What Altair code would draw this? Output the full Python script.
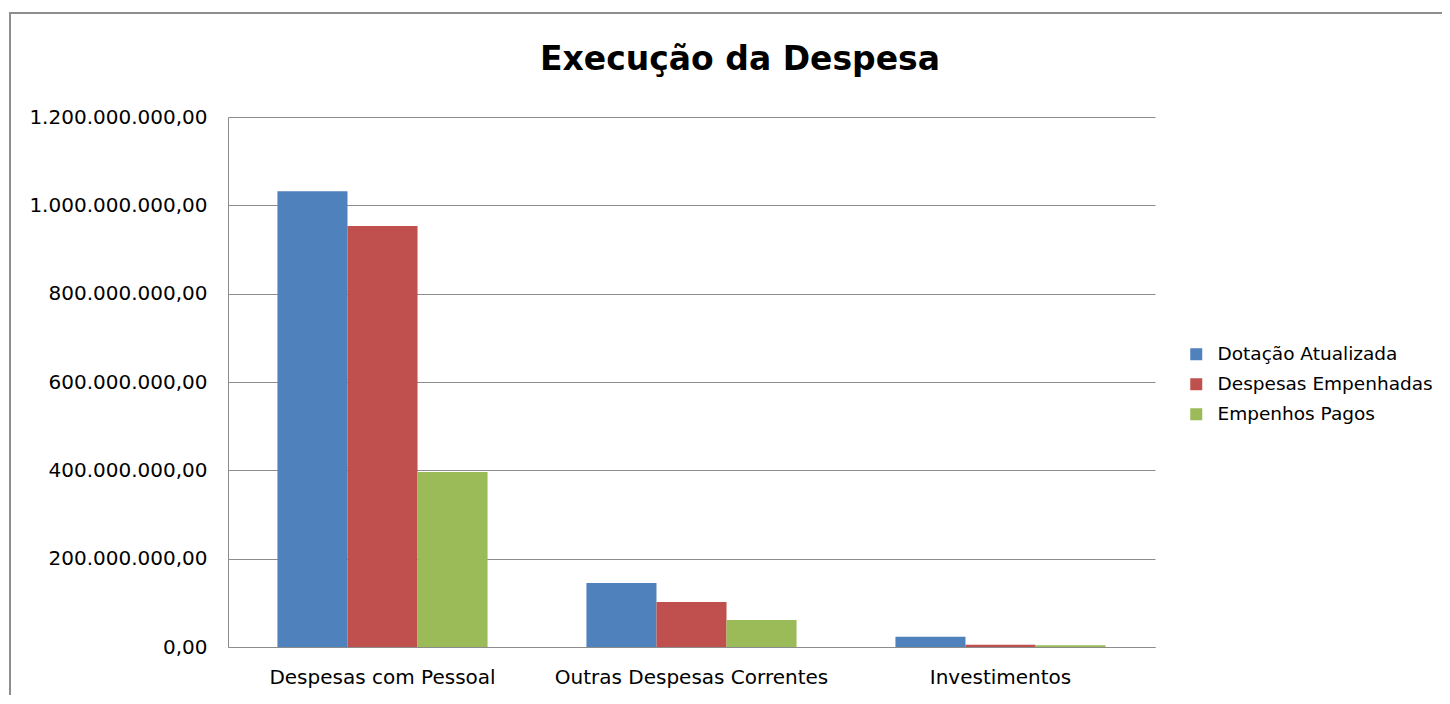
import altair as alt
import pandas as pd

categories = ["Despesas com Pessoal", "Outras Despesas Correntes", "Investimentos"]
series = ["Dotação Atualizada", "Despesas Empenhadas", "Empenhos Pagos"]
dotacao_atualizada = [1032e6, 145e6, 23e6]
despesas_empenhadas = [953e6, 102e6, 5e6]
empenhos_pagos = [396e6, 61e6, 4e6]
y_ticks = [0, 2e8, 4e8, 6e8, 8e8, 1e9, 1.2e9]
colors = ["#4F81BD", "#C0504D", "#9BBB59"]
chart_title = ["Execução da Despesa"]

rows = []
for s, vals in zip(series, [dotacao_atualizada, despesas_empenhadas, empenhos_pagos]):
    for c, v in zip(categories, vals):
        rows.append({"categoria": c, "serie": s, "valor": v})
df = pd.DataFrame(rows)

FONT = "DejaVu Sans"
GRID = "#8c8c8c"

frame = alt.Chart(pd.DataFrame({"f": [0]})).mark_rect(
    fillOpacity=0, stroke="#8e8e8e", strokeWidth=2
).encode(
    x=alt.value(-218), x2=alt.value(1400), y=alt.value(-104), y2=alt.value(700)
)

title = alt.Chart(pd.DataFrame({"t": chart_title})).mark_text(
    font=FONT, fontSize=33, fontWeight="bold", color="#000", align="center", baseline="middle"
).encode(
    text="t:N", x=alt.value(512), y=alt.value(-57)
)

bars = alt.Chart(df).mark_bar().encode(
    x=alt.X(
        "categoria:N", sort=categories, title=None,
        scale=alt.Scale(paddingInner=0.32, paddingOuter=0.16),
        axis=alt.Axis(labelAngle=0, labelFont=FONT, labelFontSize=20, labelColor="#000",
                      labelPadding=20, labelLimit=0, ticks=False, domainColor=GRID, grid=False),
    ),
    xOffset=alt.XOffset("serie:N", sort=series, scale=alt.Scale(paddingInner=0, paddingOuter=0)),
    y=alt.Y(
        "valor:Q", title=None,
        scale=alt.Scale(domain=[0, 1.2e9], nice=False),
        axis=alt.Axis(values=y_ticks, format=",.2f", labelFont=FONT, labelFontSize=20,
                      labelColor="#000", labelPadding=21, labelLimit=0, ticks=False,
                      domainColor=GRID, grid=True, gridColor=GRID, gridOpacity=1),
    ),
    color=alt.Color(
        "serie:N", sort=series, title=None,
        scale=alt.Scale(domain=series, range=colors),
        legend=alt.Legend(orient="none", legendX=959, legendY=228, symbolType="square",
                          symbolSize=144, symbolStrokeWidth=0, labelFont=FONT, labelFontSize=18.5,
                          labelColor="#000", labelOffset=12, labelLimit=0, rowPadding=11,
                          padding=0),
    ),
)

chart = alt.layer(frame, title, bars).properties(
    width=927, height=530,
    padding={"left": 220, "top": 109, "right": 287, "bottom": 48},
    autosize=alt.AutoSizeParams(type="none"),
).configure(
    locale={"number": {"decimal": ",", "thousands": ".", "grouping": [3], "currency": ["R$", ""]}}
).configure_view(stroke=None)

chart.save("out.html", embed_options={"renderer": "svg", "actions": False})
